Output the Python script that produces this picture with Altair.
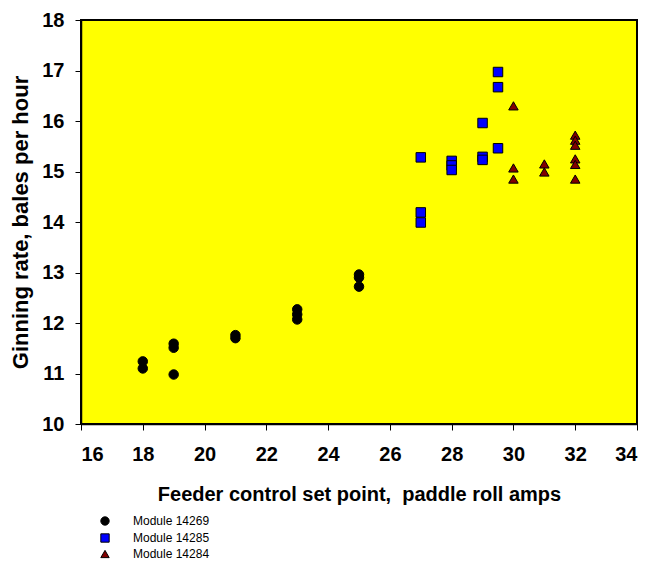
import altair as alt
import pandas as pd

# Module 14269 (black circles)
m1_x = [18, 18, 19, 19, 19, 21, 21, 23, 23, 23, 25, 25, 25]
m1_y = [11.24, 11.10, 11.59, 11.51, 10.98, 11.76, 11.70, 12.27, 12.17, 12.07, 12.96, 12.90, 12.72]
# Module 14285 (blue squares)
m2_x = [27, 27, 27, 28, 28, 28, 29, 29, 29, 29.5, 29.5, 29.5]
m2_y = [15.28, 14.19, 13.99, 15.21, 15.12, 15.03, 15.96, 15.29, 15.23, 16.97, 16.67, 15.46]
# Module 14284 (dark red triangles)
m3_x = [30, 30, 30, 31, 31, 32, 32, 32, 32, 32, 32]
m3_y = [16.30, 15.07, 14.85, 15.15, 14.99, 15.72, 15.62, 15.52, 15.25, 15.14, 14.85]

series = ["Module 14269", "Module 14285", "Module 14284"]

rows = []
for name, xs, ys in zip(series, [m1_x, m2_x, m3_x], [m1_y, m2_y, m3_y]):
    for a, b in zip(xs, ys):
        rows.append({"amps": a, "rate": b, "module": name})
df = pd.DataFrame(rows)

leg = alt.Legend(title=None, orient="none", legendX=18, legendY=495, padding=0,
                 labelFont="Liberation Sans", labelFontSize=12, labelColor="black",
                 symbolSize=70, rowPadding=3, labelOffset=22, symbolStrokeWidth=1)

chart = alt.Chart(df).mark_point(filled=True, opacity=1, strokeWidth=1, stroke="black", size=90).encode(
    x=alt.X("amps:Q", scale=alt.Scale(domain=[16, 34], nice=False, zero=False),
            axis=alt.Axis(values=list(range(16, 35, 2)),
                          title="Feeder control set point,\u00a0\u00a0paddle roll amps",
                          grid=False, domainColor="black", domainWidth=1.5, tickColor="black",
                          tickSize=6, labelFont="Liberation Sans", labelFontSize=20, labelFontWeight="bold",
                          labelColor="black", labelPadding=14, titleFont="Liberation Sans", titleFontSize=20,
                          titleFontWeight="bold", titleColor="black", titlePadding=20)),
    y=alt.Y("rate:Q", scale=alt.Scale(domain=[10, 18], nice=False, zero=False),
            axis=alt.Axis(values=list(range(10, 19)), title="Ginning rate, bales per hour",
                          grid=False, domainColor="black", domainWidth=1.5, tickColor="black",
                          tickSize=6, labelFont="Liberation Sans", labelFontSize=20, labelFontWeight="bold",
                          labelColor="black", labelPadding=11, titleFont="Liberation Sans", titleFontSize=22,
                          titleFontWeight="bold", titleColor="black", titlePadding=9)),
    shape=alt.Shape("module:N", scale=alt.Scale(domain=series, range=["circle", "square", "triangle-up"]),
                    legend=leg),
    color=alt.Color("module:N", scale=alt.Scale(domain=series, range=["#000000", "#0000FF", "#800000"]),
                    legend=leg),
).properties(
    width=556, height=404,
    autosize=alt.AutoSizeParams(type="none"),
    padding={"left": 73, "top": 12, "right": 5, "bottom": 139},
).configure_view(
    fill="#FFFF00", fillOpacity=1, stroke="black", strokeWidth=2
)

chart.save("out.html", embed_options={"renderer": "svg", "actions": False})
